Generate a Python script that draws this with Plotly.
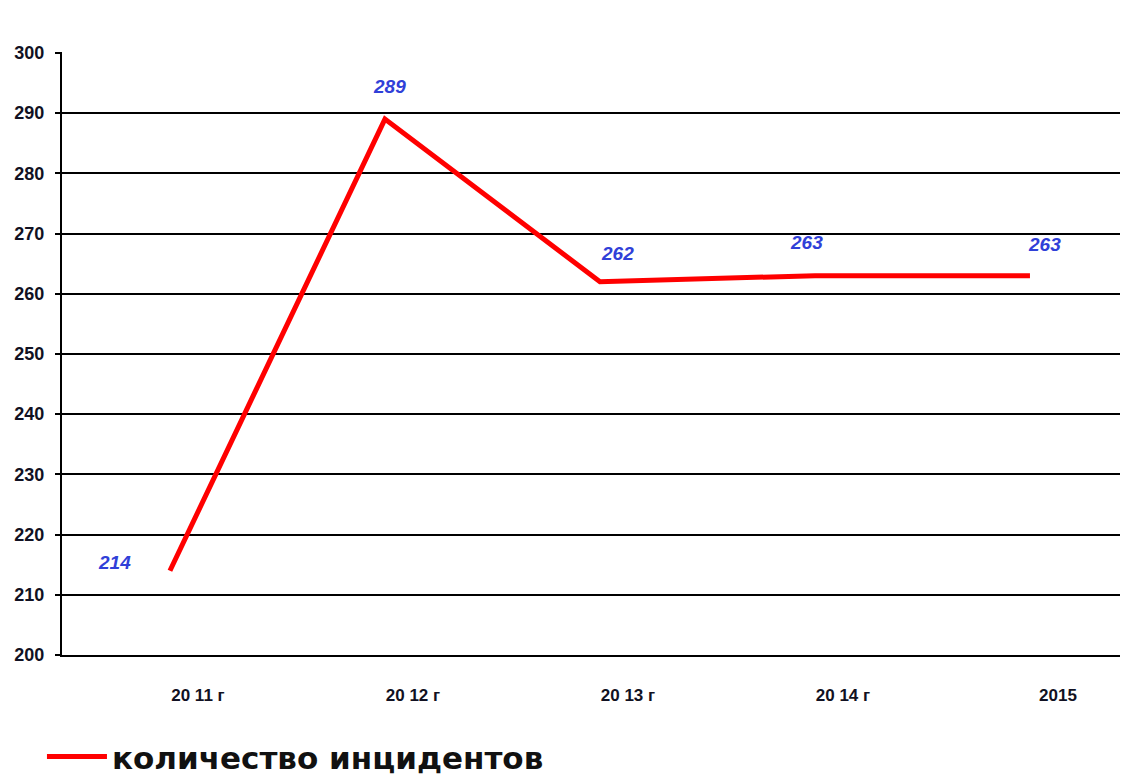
import plotly.graph_objects as go

categories = ["20 11 г", "20 12 г", "20 13 г", "20 14 г", "2015"]
values = [214, 289, 262, 263, 263]
y_ticks = [200, 210, 220, 230, 240, 250, 260, 270, 280, 290, 300]
series_name = "количество инцидентов"

# label offsets (px) relative to each point
label_dx = [-55, 5, 18, -8, 15]
label_dy = [-8, -33, -28, -33, -31]

TICKFONT = "Liberation Sans, Arial, sans-serif"
LEGFONT = "DejaVu Sans, sans-serif"

fig = go.Figure()
fig.add_trace(go.Scatter(
    x=list(range(len(categories))), y=values, mode="lines",
    line=dict(color="#ff0000", width=5), name=series_name,
    showlegend=True,
))

for i, v in enumerate(values):
    fig.add_annotation(
        x=i, y=v, text=f"<b><i>{v}</i></b>", showarrow=False,
        xshift=label_dx[i], yshift=-label_dy[i],
        font=dict(family="Liberation Sans, Arial, sans-serif", size=19, color="#3040d8"),
    )

fig.update_layout(
    width=1120, height=767,
    paper_bgcolor="white", plot_bgcolor="white",
    margin=dict(l=54, r=0, t=44, b=120, autoexpand=False),
    showlegend=True,
    legend=dict(
        orientation="h", x=-0.0188, xanchor="left", y=-0.124, yanchor="top",
        font=dict(family=LEGFONT, size=31, color="#111111", weight="bold"),
        itemwidth=60,
    ),
    xaxis=dict(
        range=[-0.502, 4.456],
        tickmode="array", tickvals=list(range(len(categories))), ticktext=categories,
        showgrid=False, showline=True, linecolor="#000000", linewidth=2,
        zeroline=False, ticks="",
        tickfont=dict(family=TICKFONT, size=17, color="#111122", weight="bold"),
        ticklabelstandoff=24, ticklabelshift=28, automargin=False,
    ),
    yaxis=dict(
        range=[200, 300.15], tickvals=y_ticks,
        showgrid=True, gridcolor="#000000", gridwidth=1.5,
        showline=True, linecolor="#000000", linewidth=2,
        zeroline=False,
        ticks="outside", ticklen=5, tickcolor="#000000", tickwidth=1.5,
        tickfont=dict(family=TICKFONT, size=18, color="#111122", weight="bold"),
        ticklabelstandoff=7, automargin=False,
    ),
)

fig.write_html("out.html")
